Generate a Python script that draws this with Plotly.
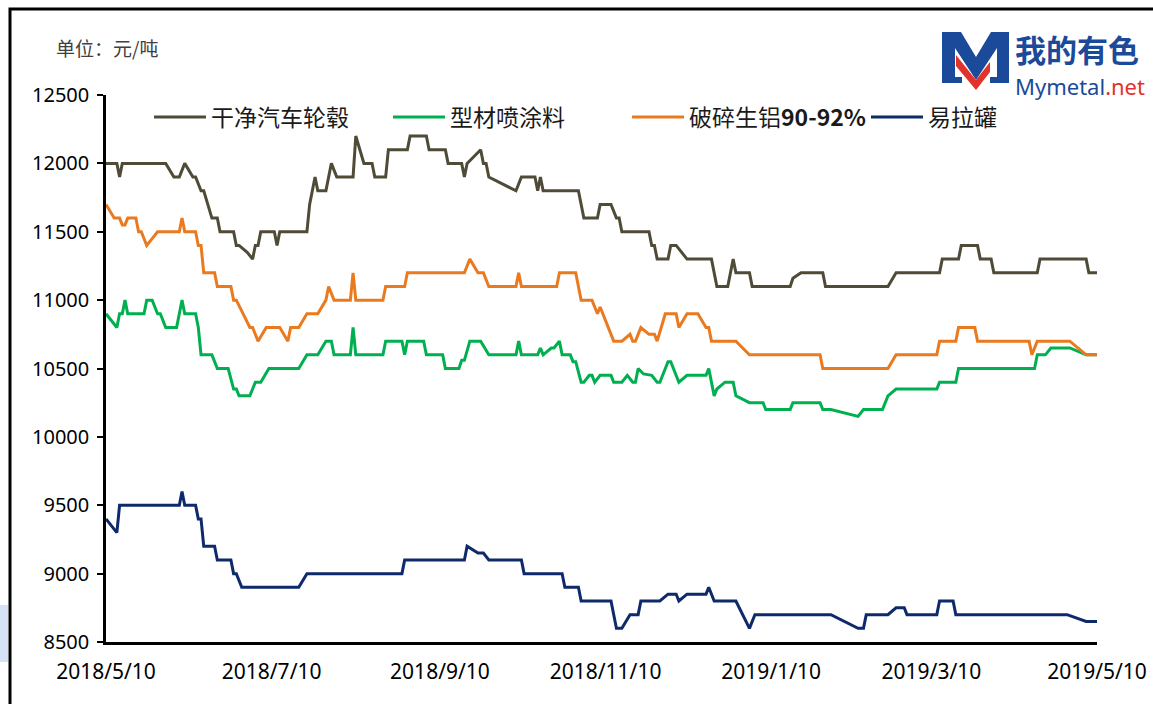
import plotly.graph_objects as go

# ---------------- data ----------------
brown_name = "干净汽车轮毂"
brown_dates = [
    "2018-05-10", "2018-05-14", "2018-05-15", "2018-05-16", "2018-06-01", "2018-06-04", "2018-06-06", "2018-06-08", "2018-06-11", "2018-06-12",
    "2018-06-14", "2018-06-15", "2018-06-18", "2018-06-20", "2018-06-21", "2018-06-26", "2018-06-27", "2018-06-28", "2018-07-01", "2018-07-03",
    "2018-07-04", "2018-07-05", "2018-07-06", "2018-07-11", "2018-07-12", "2018-07-13", "2018-07-23", "2018-07-24", "2018-07-26", "2018-07-27",
    "2018-07-30", "2018-08-01", "2018-08-03", "2018-08-09", "2018-08-10", "2018-08-13", "2018-08-16", "2018-08-17", "2018-08-21", "2018-08-22",
    "2018-08-29", "2018-08-30", "2018-09-05", "2018-09-06", "2018-09-12", "2018-09-13", "2018-09-18", "2018-09-19", "2018-09-20", "2018-09-25",
    "2018-09-26", "2018-09-27", "2018-09-28", "2018-10-08", "2018-10-10", "2018-10-15", "2018-10-16", "2018-10-17", "2018-10-18", "2018-10-31",
    "2018-11-02", "2018-11-07", "2018-11-08", "2018-11-12", "2018-11-14", "2018-11-15", "2018-11-16", "2018-11-26", "2018-11-27", "2018-11-28",
    "2018-11-29", "2018-12-03", "2018-12-04", "2018-12-06", "2018-12-10", "2018-12-19", "2018-12-21", "2018-12-25", "2018-12-27", "2018-12-28",
    "2019-01-02", "2019-01-03", "2019-01-17", "2019-01-18", "2019-01-21", "2019-01-29", "2019-01-30", "2019-02-22", "2019-02-25", "2019-03-13",
    "2019-03-14", "2019-03-20", "2019-03-21", "2019-03-27", "2019-03-28", "2019-04-01", "2019-04-02", "2019-04-18", "2019-04-19", "2019-05-06",
    "2019-05-07", "2019-05-10",
]
brown_vals = [
    12000, 12000, 11900, 12000, 12000, 11900, 11900, 12000, 11900, 11900,
    11800, 11800, 11600, 11600, 11500, 11500, 11400, 11400, 11350, 11300,
    11400, 11400, 11500, 11500, 11400, 11500, 11500, 11700, 11900, 11800,
    11800, 12000, 11900, 11900, 12200, 12000, 12000, 11900, 11900, 12100,
    12100, 12200, 12200, 12100, 12100, 12000, 12000, 11900, 12000, 12100,
    12000, 12000, 11900, 11800, 11900, 11900, 11800, 11900, 11800, 11800,
    11600, 11600, 11700, 11700, 11600, 11600, 11500, 11500, 11400, 11400,
    11300, 11300, 11400, 11400, 11300, 11300, 11100, 11100, 11300, 11200,
    11200, 11100, 11100, 11160, 11200, 11200, 11100, 11100, 11200, 11200,
    11300, 11300, 11400, 11400, 11300, 11300, 11200, 11200, 11300, 11300,
    11200, 11200,
]

green_name = "型材喷涂料"
green_dates = [
    "2018-05-10", "2018-05-14", "2018-05-15", "2018-05-16", "2018-05-17", "2018-05-18", "2018-05-24", "2018-05-25", "2018-05-27", "2018-05-29",
    "2018-05-30", "2018-06-01", "2018-06-05", "2018-06-07", "2018-06-08", "2018-06-12", "2018-06-13", "2018-06-14", "2018-06-18", "2018-06-20",
    "2018-06-24", "2018-06-26", "2018-06-27", "2018-06-28", "2018-07-02", "2018-07-04", "2018-07-06", "2018-07-09", "2018-07-20", "2018-07-23",
    "2018-07-27", "2018-07-30", "2018-08-01", "2018-08-02", "2018-08-08", "2018-08-09", "2018-08-10", "2018-08-20", "2018-08-21", "2018-08-27",
    "2018-08-28", "2018-08-29", "2018-09-04", "2018-09-05", "2018-09-11", "2018-09-12", "2018-09-17", "2018-09-18", "2018-09-19", "2018-09-21",
    "2018-09-25", "2018-09-28", "2018-10-08", "2018-10-09", "2018-10-10", "2018-10-16", "2018-10-17", "2018-10-18", "2018-10-21", "2018-10-22",
    "2018-10-24", "2018-10-25", "2018-10-28", "2018-10-29", "2018-10-30", "2018-11-01", "2018-11-02", "2018-11-04", "2018-11-05", "2018-11-06",
    "2018-11-08", "2018-11-12", "2018-11-13", "2018-11-16", "2018-11-18", "2018-11-20", "2018-11-21", "2018-11-22", "2018-11-24", "2018-11-26",
    "2018-11-27", "2018-11-29", "2018-11-30", "2018-12-03", "2018-12-04", "2018-12-07", "2018-12-10", "2018-12-17", "2018-12-18", "2018-12-20",
    "2018-12-21", "2018-12-24", "2018-12-27", "2018-12-28", "2019-01-02", "2019-01-07", "2019-01-08", "2019-01-17", "2019-01-18", "2019-01-28",
    "2019-01-29", "2019-02-01", "2019-02-11", "2019-02-13", "2019-02-20", "2019-02-22", "2019-02-25", "2019-03-12", "2019-03-13", "2019-03-19",
    "2019-03-20", "2019-04-17", "2019-04-18", "2019-04-21", "2019-04-23", "2019-04-30", "2019-05-06", "2019-05-10",
]
green_vals = [
    10900, 10800, 10900, 10900, 11000, 10900, 10900, 11000, 11000, 10900,
    10900, 10800, 10800, 11000, 10900, 10900, 10800, 10600, 10600, 10500,
    10500, 10350, 10350, 10300, 10300, 10400, 10400, 10500, 10500, 10600,
    10600, 10700, 10700, 10600, 10600, 10800, 10600, 10600, 10700, 10700,
    10600, 10700, 10700, 10600, 10600, 10500, 10500, 10560, 10560, 10700,
    10700, 10600, 10600, 10700, 10600, 10600, 10650, 10600, 10650, 10650,
    10700, 10600, 10600, 10550, 10550, 10400, 10400, 10450, 10450, 10400,
    10450, 10450, 10400, 10400, 10450, 10400, 10400, 10500, 10460, 10450,
    10450, 10400, 10400, 10550, 10550, 10400, 10450, 10450, 10500, 10300,
    10350, 10400, 10400, 10300, 10250, 10250, 10200, 10200, 10250, 10250,
    10200, 10200, 10150, 10200, 10200, 10300, 10350, 10350, 10400, 10400,
    10500, 10500, 10600, 10600, 10650, 10650, 10600, 10600,
]

orange_name = "破碎生铝<b>90-92%</b>"
orange_dates = [
    "2018-05-10", "2018-05-13", "2018-05-15", "2018-05-16", "2018-05-17", "2018-05-18", "2018-05-21", "2018-05-22", "2018-05-23", "2018-05-25",
    "2018-05-27", "2018-05-29", "2018-06-06", "2018-06-07", "2018-06-08", "2018-06-12", "2018-06-13", "2018-06-14", "2018-06-15", "2018-06-19",
    "2018-06-20", "2018-06-25", "2018-06-26", "2018-06-27", "2018-07-02", "2018-07-03", "2018-07-05", "2018-07-08", "2018-07-13", "2018-07-16",
    "2018-07-17", "2018-07-20", "2018-07-23", "2018-07-27", "2018-07-30", "2018-07-31", "2018-08-02", "2018-08-08", "2018-08-09", "2018-08-10",
    "2018-08-20", "2018-08-21", "2018-08-28", "2018-08-29", "2018-09-19", "2018-09-21", "2018-09-24", "2018-09-26", "2018-09-28", "2018-10-08",
    "2018-10-09", "2018-10-10", "2018-10-23", "2018-10-24", "2018-10-30", "2018-11-01", "2018-11-05", "2018-11-07", "2018-11-08", "2018-11-09",
    "2018-11-13", "2018-11-16", "2018-11-19", "2018-11-20", "2018-11-21", "2018-11-23", "2018-11-26", "2018-11-28", "2018-11-29", "2018-12-02",
    "2018-12-06", "2018-12-07", "2018-12-10", "2018-12-14", "2018-12-17", "2018-12-18", "2018-12-19", "2018-12-28", "2019-01-02", "2019-01-28",
    "2019-01-29", "2019-02-22", "2019-02-25", "2019-03-12", "2019-03-13", "2019-03-19", "2019-03-20", "2019-03-26", "2019-03-27", "2019-04-15",
    "2019-04-16", "2019-04-18", "2019-04-30", "2019-05-06", "2019-05-10",
]
orange_vals = [
    11700, 11600, 11600, 11550, 11550, 11600, 11600, 11500, 11500, 11400,
    11450, 11500, 11500, 11600, 11500, 11500, 11400, 11400, 11200, 11200,
    11100, 11100, 11000, 11000, 10800, 10800, 10700, 10800, 10800, 10700,
    10800, 10800, 10900, 10900, 11000, 11100, 11000, 11000, 11200, 11000,
    11000, 11100, 11100, 11200, 11200, 11300, 11200, 11200, 11100, 11100,
    11200, 11100, 11100, 11200, 11200, 11000, 11000, 10900, 10950, 10900,
    10700, 10700, 10750, 10700, 10700, 10800, 10750, 10750, 10700, 10900,
    10900, 10800, 10900, 10900, 10800, 10800, 10700, 10700, 10600, 10600,
    10500, 10500, 10600, 10600, 10700, 10700, 10800, 10800, 10700, 10700,
    10600, 10700, 10700, 10600, 10600,
]

navy_name = "易拉罐"
navy_dates = [
    "2018-05-10", "2018-05-14", "2018-05-15", "2018-06-06", "2018-06-07", "2018-06-08", "2018-06-12", "2018-06-13", "2018-06-14", "2018-06-15",
    "2018-06-19", "2018-06-20", "2018-06-25", "2018-06-26", "2018-06-27", "2018-06-29", "2018-07-20", "2018-07-23", "2018-08-27", "2018-08-28",
    "2018-09-19", "2018-09-20", "2018-09-24", "2018-09-26", "2018-09-28", "2018-10-10", "2018-10-11", "2018-10-25", "2018-10-26", "2018-10-31",
    "2018-11-01", "2018-11-12", "2018-11-14", "2018-11-16", "2018-11-19", "2018-11-22", "2018-11-23", "2018-11-30", "2018-12-03", "2018-12-06",
    "2018-12-07", "2018-12-10", "2018-12-17", "2018-12-18", "2018-12-20", "2018-12-28", "2019-01-02", "2019-01-04", "2019-02-01", "2019-02-11",
    "2019-02-13", "2019-02-14", "2019-02-22", "2019-02-25", "2019-02-28", "2019-03-01", "2019-03-12", "2019-03-13", "2019-03-18", "2019-03-19",
    "2019-04-29", "2019-05-06", "2019-05-10",
]
navy_vals = [
    9400, 9300, 9500, 9500, 9600, 9500, 9500, 9400, 9400, 9200,
    9200, 9100, 9100, 9000, 9000, 8900, 8900, 9000, 9000, 9100,
    9100, 9200, 9150, 9150, 9100, 9100, 9000, 9000, 8900, 8900,
    8800, 8800, 8600, 8600, 8700, 8700, 8800, 8800, 8850, 8850,
    8800, 8850, 8850, 8900, 8800, 8800, 8600, 8700, 8700, 8600,
    8600, 8700, 8700, 8750, 8750, 8700, 8700, 8800, 8800, 8700,
    8700, 8650, 8650,
]

x_tick_vals = ["2018-05-10", "2018-07-10", "2018-09-10", "2018-11-10", "2019-01-10", "2019-03-10", "2019-05-10"]
x_tick_text = ["2018/5/10", "2018/7/10", "2018/9/10", "2018/11/10", "2019/1/10", "2019/3/10", "2019/5/10"]
y_range = [8500, 12500]
y_step = 500
unit_text = "单位：元/吨"

# ---------------- styling ----------------
W, H = 1153, 704
PL, PR, PT, PB = 106, 1097, 95, 642   # plot area in pixels


def fx(p):
    return (p - PL) / (PR - PL)


def fy(p):
    return (PB - p) / (PB - PT)


CJK = "Noto Sans CJK SC"
NUM = "Noto Sans"

series = [
    (brown_name, brown_dates, brown_vals, "#4F4B37"),
    (green_name, green_dates, green_vals, "#00B050"),
    (orange_name, orange_dates, orange_vals, "#EA7A20"),
    (navy_name, navy_dates, navy_vals, "#0E2A6B"),
]

fig = go.Figure()
for name, xs, ys, col in series:
    fig.add_trace(go.Scatter(x=xs, y=ys, name=name, mode="lines",
                             line=dict(color=col, width=3)))

shapes = []
# outer black frame of the picture
shapes.append(dict(type="rect", xref="paper", yref="paper",
                   x0=fx(10), x1=fx(1170), y0=fy(720), y1=fy(9),
                   line=dict(color="black", width=3), fillcolor="rgba(0,0,0,0)"))
# light blue strip at the left edge
shapes.append(dict(type="rect", xref="paper", yref="paper",
                   x0=fx(-2), x1=fx(8), y0=fy(662), y1=fy(605),
                   line=dict(width=0), fillcolor="#D5E3F4"))


def path(points):
    s = "M " + " L ".join(f"{fx(a):.5f},{fy(b):.5f}" for a, b in points) + " Z"
    return s


blue_m = [(942, 32), (961, 32), (976, 57), (991, 32), (1009, 32), (1009, 83), (990, 83), (990, 77),
          (997, 77), (997, 48), (976, 80), (955, 48), (955, 77), (962, 77), (962, 83), (942, 83)]
red_v = [(956, 55), (976, 80), (990, 62), (990, 72), (976, 90), (956, 66)]
shapes.append(dict(type="path", xref="paper", yref="paper", path=path(blue_m),
                   fillcolor="#1B4A9A", line=dict(width=0)))
shapes.append(dict(type="path", xref="paper", yref="paper", path=path(red_v),
                   fillcolor="#E1322B", line=dict(width=0)))

annotations = [
    dict(text=unit_text, x=fx(54), y=fy(47), xref="paper", yref="paper",
         xanchor="left", yanchor="middle", showarrow=False,
         font=dict(family=CJK, size=19, color="#404040")),
    dict(text="<b>我的有色</b>", x=fx(1013), y=fy(49), xref="paper", yref="paper",
         xanchor="left", yanchor="middle", showarrow=False,
         font=dict(family=CJK, size=31, color="#1B4A9A")),
    dict(text="Mymetal<span style='color:#E1322B'>.net</span>", x=fx(1013), y=fy(86),
         xref="paper", yref="paper", xanchor="left", yanchor="middle", showarrow=False,
         font=dict(family=NUM, size=22, color="#1B4A9A")),
]

fig.update_layout(
    width=W, height=H,
    paper_bgcolor="white", plot_bgcolor="white",
    margin=dict(l=PL, r=W - PR, t=PT, b=H - PB, autoexpand=False),
    showlegend=True,
    legend=dict(orientation="h", x=fx(149), y=fy(117), xanchor="left", yanchor="middle",
                font=dict(family=CJK, size=23, color="#1a1a1a"),
                itemwidth=52, entrywidth=172, entrywidthmode="pixels",
                bgcolor="rgba(0,0,0,0)", traceorder="normal"),
    xaxis=dict(type="date", range=[x_tick_vals[0], x_tick_vals[-1]],
               tickvals=x_tick_vals, ticktext=x_tick_text, ticks="",
               showline=True, linecolor="black", linewidth=2.5, showgrid=False,
               zeroline=False, ticklabelstandoff=9,
               tickfont=dict(family=NUM, size=21, color="black")),
    yaxis=dict(range=y_range, dtick=y_step, tick0=y_range[0], ticks="outside", ticklen=6,
               tickwidth=2, tickcolor="black", showline=True, linecolor="black",
               linewidth=2.5, showgrid=False, zeroline=False, ticklabelstandoff=4,
               tickformat="d",
               tickfont=dict(family=NUM, size=20, color="black")),
    shapes=shapes,
    annotations=annotations,
    hovermode=False,
)

fig.write_html("out.html", config={"displayModeBar": False},
               post_script="document.body.style.margin='0px';")
